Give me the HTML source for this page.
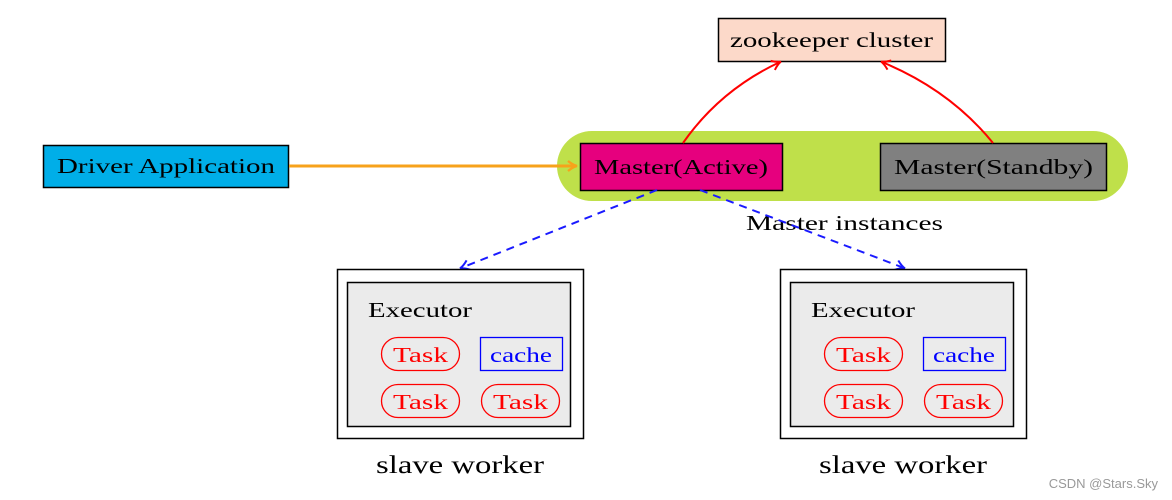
<!DOCTYPE html>
<html><head><meta charset="utf-8"><style>
html,body{margin:0;padding:0;background:#fff;width:1172px;height:500px;overflow:hidden}
svg text{font-family:"Liberation Serif",serif}
</style></head><body>
<svg width="1172" height="500" viewBox="0 0 1172 500" xmlns="http://www.w3.org/2000/svg">
<defs>
<marker id="ao" markerWidth="12" markerHeight="12" refX="9" refY="6" orient="auto" markerUnits="userSpaceOnUse"><path d="M1,1 Q6,5 10,6 Q6,7 1,11" fill="none" stroke="#f7a21b" stroke-width="2.4"/></marker>
<marker id="ar" markerWidth="12" markerHeight="12" refX="9" refY="6" orient="auto" markerUnits="userSpaceOnUse"><path d="M1,1 Q6,5 10,6 Q6,7 1,11" fill="none" stroke="#f00" stroke-width="2"/></marker>
<marker id="ab" markerWidth="12" markerHeight="12" refX="9" refY="6" orient="auto" markerUnits="userSpaceOnUse"><path d="M1,1 Q6,5 10,6 Q6,7 1,11" fill="none" stroke="#1a1aff" stroke-width="2"/></marker>
</defs>
<rect x="557" y="131" width="571" height="70" rx="35" fill="#bfe04a"/>
<rect x="718.5" y="18.5" width="227" height="43" fill="#fcd9c9" stroke="#000" stroke-width="1.5"/>
<text x="730" y="47" font-size="21" textLength="203" lengthAdjust="spacingAndGlyphs">zookeeper cluster</text>
<rect x="43.5" y="145.5" width="245" height="42" fill="#00aee8" stroke="#000" stroke-width="1.5"/>
<text x="57" y="173" font-size="21" textLength="218" lengthAdjust="spacingAndGlyphs">Driver Application</text>
<rect x="580.5" y="143.5" width="202" height="47" fill="#e6007e" stroke="#000" stroke-width="1.5"/>
<text x="594" y="174" font-size="21" textLength="174" lengthAdjust="spacingAndGlyphs">Master(Active)</text>
<rect x="880.5" y="143.5" width="226" height="47" fill="#808080" stroke="#000" stroke-width="1.5"/>
<text x="894" y="174" font-size="21" textLength="199" lengthAdjust="spacingAndGlyphs">Master(Standby)</text>
<line x1="289" y1="166" x2="576" y2="166" stroke="#f7a21b" stroke-width="3" marker-end="url(#ao)"/>
<path d="M683,143 Q720,90 780,62" fill="none" stroke="#f00" stroke-width="2" marker-end="url(#ar)"/>
<path d="M993,143 Q950,90 882,62" fill="none" stroke="#f00" stroke-width="2" marker-end="url(#ar)"/>
<text x="746" y="230" font-size="21" textLength="197" lengthAdjust="spacingAndGlyphs">Master instances</text>
<line x1="657" y1="190" x2="461" y2="268" stroke="#1a1aff" stroke-width="2" stroke-dasharray="8,6" marker-end="url(#ab)"/>
<line x1="700" y1="190" x2="904" y2="268" stroke="#1a1aff" stroke-width="2" stroke-dasharray="8,6" marker-end="url(#ab)"/>
<g id="w">
<rect x="337.5" y="269.5" width="246" height="169" fill="#fff" stroke="#000" stroke-width="1.5"/>
<rect x="347.5" y="282.5" width="223" height="144" fill="#ebebeb" stroke="#000" stroke-width="1.5"/>
<text x="368" y="317" font-size="21" textLength="104" lengthAdjust="spacingAndGlyphs">Executor</text>
<rect x="381.5" y="337.5" width="78" height="33" rx="16.5" fill="none" stroke="#f00" stroke-width="1.3"/>
<text x="393" y="362" font-size="21" fill="#f00" textLength="55" lengthAdjust="spacingAndGlyphs">Task</text>
<rect x="480.5" y="337.5" width="82" height="33" fill="none" stroke="#00f" stroke-width="1.3"/>
<text x="490" y="362" font-size="21" fill="#00f" textLength="62" lengthAdjust="spacingAndGlyphs">cache</text>
<rect x="381.5" y="384.5" width="78" height="33" rx="16.5" fill="none" stroke="#f00" stroke-width="1.3"/>
<text x="393" y="409" font-size="21" fill="#f00" textLength="55" lengthAdjust="spacingAndGlyphs">Task</text>
<rect x="481.5" y="384.5" width="78" height="33" rx="16.5" fill="none" stroke="#f00" stroke-width="1.3"/>
<text x="493" y="409" font-size="21" fill="#f00" textLength="55" lengthAdjust="spacingAndGlyphs">Task</text>
<text x="376" y="473" font-size="25" textLength="168" lengthAdjust="spacingAndGlyphs">slave worker</text>
</g>
<g transform="translate(443,0)">
<rect x="337.5" y="269.5" width="246" height="169" fill="#fff" stroke="#000" stroke-width="1.5"/>
<rect x="347.5" y="282.5" width="223" height="144" fill="#ebebeb" stroke="#000" stroke-width="1.5"/>
<text x="368" y="317" font-size="21" textLength="104" lengthAdjust="spacingAndGlyphs">Executor</text>
<rect x="381.5" y="337.5" width="78" height="33" rx="16.5" fill="none" stroke="#f00" stroke-width="1.3"/>
<text x="393" y="362" font-size="21" fill="#f00" textLength="55" lengthAdjust="spacingAndGlyphs">Task</text>
<rect x="480.5" y="337.5" width="82" height="33" fill="none" stroke="#00f" stroke-width="1.3"/>
<text x="490" y="362" font-size="21" fill="#00f" textLength="62" lengthAdjust="spacingAndGlyphs">cache</text>
<rect x="381.5" y="384.5" width="78" height="33" rx="16.5" fill="none" stroke="#f00" stroke-width="1.3"/>
<text x="393" y="409" font-size="21" fill="#f00" textLength="55" lengthAdjust="spacingAndGlyphs">Task</text>
<rect x="481.5" y="384.5" width="78" height="33" rx="16.5" fill="none" stroke="#f00" stroke-width="1.3"/>
<text x="493" y="409" font-size="21" fill="#f00" textLength="55" lengthAdjust="spacingAndGlyphs">Task</text>
<text x="376" y="473" font-size="25" textLength="168" lengthAdjust="spacingAndGlyphs">slave worker</text>
</g>
<text x="1158" y="488" font-size="13" fill="#999" text-anchor="end" style="font-family:'Liberation Sans',sans-serif">CSDN @Stars.Sky</text>
</svg>
</body></html>
